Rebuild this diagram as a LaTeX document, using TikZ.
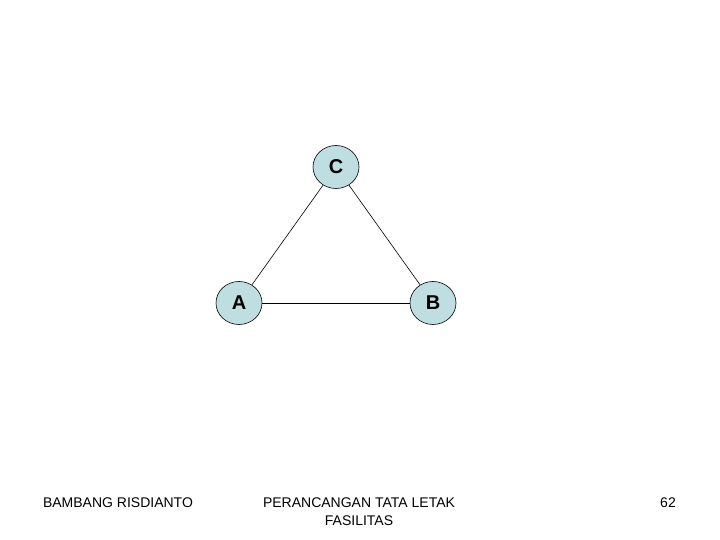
\documentclass[tikz,border=0pt]{standalone}
\usepackage{fontspec}
\setmainfont{Liberation Sans}
\usetikzlibrary{shapes.geometric}
\definecolor{nodefill}{RGB}{190,222,226}
\begin{document}
\begin{tikzpicture}[x=1pt,y=1pt,
  vert/.style={ellipse,draw=black,line width=0.6pt,fill=nodefill,minimum width=46pt,minimum height=43pt,inner sep=0pt,font=\fontsize{20}{22}\selectfont\bfseries},
  edge/.style={draw=black,line width=0.6pt},
  foot/.style={font=\fontsize{14}{18}\selectfont,inner sep=0pt,align=center}]
\useasboundingbox (0,0) rectangle (720,540);
\node[vert] (C) at (336,373) {C};
\node[vert] (A) at (239,237) {A};
\node[vert] (B) at (433,237) {B};
\draw[edge] (C) -- (A);
\draw[edge] (C) -- (B);
\draw[edge] (A) -- (B);
\node[foot,anchor=base] (f1) at (118,32) {BAMBANG RISDIANTO};
\node[foot,anchor=base] (f2) at (359,32) {PERANCANGAN TATA LETAK};
\node[foot,anchor=base] (f3) at (359,14) {FASILITAS};
\node[foot,anchor=base] (f4) at (668,32) {62};
\end{tikzpicture}
\end{document}
